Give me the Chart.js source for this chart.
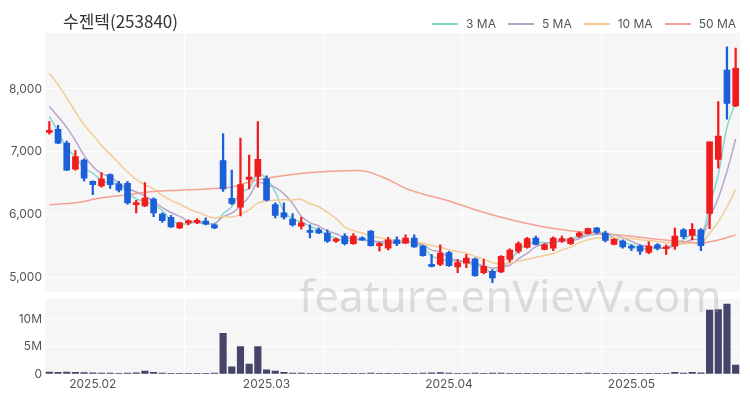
<!DOCTYPE html>
<html>
<head>
<meta charset="utf-8">
<script src="https://cdn.jsdelivr.net/npm/chart.js@4.4.1/dist/chart.umd.min.js"></script>
<style>
    body { margin: 0; background: #fff; }
    #wrap { position: relative; width: 750px; height: 400px; overflow: hidden; font-family: Inter, "Noto Sans CJK KR", sans-serif; }
    #title { position: absolute; left: 63px; top: 8px; font-size: 17px; color: #333; font-family: "Noto Sans CJK KR", sans-serif; }
    #legend { position: absolute; left: 420px; top: 16px; display: flex; font-size: 12px; color: #555; }
    .item { display: flex; align-items: center; margin-left: 12px; }
    .swatch { width: 26px; height: 2px; margin-right: 8px; }
    #priceBox { position: absolute; left: 0; top: 0; width: 750px; height: 302px; }
    #volBox { position: absolute; left: 0; top: 289px; width: 750px; height: 111px; }
    #mark { position: absolute; left: 299px; top: 273px; font-size: 44px; line-height: 44px; color: rgba(160, 160, 160, 0.33); font-family: "Noto Sans", sans-serif; pointer-events: none; white-space: nowrap; }
</style>
</head>
<body>
<div id="wrap">
    <div id="priceBox"><canvas id="priceChart"></canvas></div>
    <div id="volBox"><canvas id="volumeChart"></canvas></div>
    <div id="title">수젠텍(253840)</div>
    <div id="legend"></div>
    <div id="mark">feature.enVievV.com</div>
</div>
<script>
// Trading days shown on the chart
const dates = [
    '2025-01-21', '2025-01-22', '2025-01-23', '2025-01-24', '2025-01-31',
    '2025-02-03', '2025-02-04', '2025-02-05', '2025-02-06', '2025-02-07', '2025-02-10', '2025-02-11', '2025-02-12', '2025-02-13', '2025-02-14',
    '2025-02-17', '2025-02-18', '2025-02-19', '2025-02-20', '2025-02-21', '2025-02-24', '2025-02-25', '2025-02-26', '2025-02-27', '2025-02-28',
    '2025-03-03', '2025-03-04', '2025-03-05', '2025-03-06', '2025-03-07', '2025-03-10', '2025-03-11', '2025-03-12', '2025-03-13', '2025-03-14',
    '2025-03-17', '2025-03-18', '2025-03-19', '2025-03-20', '2025-03-21', '2025-03-24', '2025-03-25', '2025-03-26', '2025-03-27', '2025-03-28', '2025-03-31',
    '2025-04-01', '2025-04-02', '2025-04-03', '2025-04-04', '2025-04-07', '2025-04-08', '2025-04-09', '2025-04-10', '2025-04-11', '2025-04-14',
    '2025-04-15', '2025-04-16', '2025-04-17', '2025-04-18', '2025-04-21', '2025-04-22', '2025-04-23', '2025-04-24', '2025-04-25', '2025-04-28', '2025-04-29',
    '2025-05-02', '2025-05-07', '2025-05-08', '2025-05-09', '2025-05-12', '2025-05-13', '2025-05-14', '2025-05-15', '2025-05-16', '2025-05-19', '2025-05-20', '2025-05-21', '2025-05-22'
];

// OHLC
const opens = [
    7310, 7360, 7140, 6725, 6870, 6530, 6460, 6640, 6490, 6500,
    6160, 6140, 6250, 6010, 5960, 5790, 5870, 5880, 5900, 5840,
    6860, 6260, 6120, 6560, 6610, 6570, 6160, 6030, 5930, 5820,
    5750, 5760, 5710, 5580, 5660, 5540, 5630, 5740, 5510, 5470,
    5600, 5550, 5630, 5500, 5210, 5210, 5400, 5170, 5230, 5300,
    5080, 5100, 5090, 5290, 5420, 5480, 5630, 5450, 5470, 5580,
    5540, 5660, 5700, 5790, 5710, 5530, 5580, 5500, 5500, 5400,
    5520, 5460, 5500, 5760, 5670, 5760, 6020, 6880, 8300, 7730
];
const highs = [
    7480, 7420, 7170, 7020, 6890, 6540, 6670, 6650, 6530, 6530,
    6230, 6510, 6270, 6030, 5990, 5880, 5920, 5940, 5950, 5850,
    7290, 6710, 7220, 6950, 7480, 6620, 6190, 6190, 6020, 5960,
    5840, 5790, 5760, 5630, 5700, 5700, 5650, 5750, 5560, 5640,
    5650, 5680, 5680, 5510, 5370, 5520, 5420, 5290, 5370, 5310,
    5290, 5130, 5350, 5460, 5570, 5640, 5660, 5540, 5650, 5660,
    5640, 5730, 5790, 5800, 5740, 5620, 5600, 5520, 5520, 5570,
    5540, 5520, 5790, 5780, 5860, 5780, 7160, 7800, 8670, 8650
];
const lows = [
    7280, 7130, 6700, 6710, 6540, 6320, 6440, 6420, 6365, 6170,
    6030, 6130, 5970, 5880, 5800, 5780, 5840, 5860, 5840, 5780,
    6370, 6160, 5980, 6410, 6440, 6220, 5950, 5930, 5820, 5770,
    5630, 5700, 5560, 5560, 5520, 5530, 5590, 5500, 5420, 5440,
    5510, 5540, 5480, 5340, 5170, 5190, 5180, 5080, 5160, 5020,
    5060, 4920, 5080, 5250, 5390, 5470, 5520, 5440, 5430, 5560,
    5530, 5640, 5690, 5700, 5570, 5520, 5470, 5430, 5370, 5380,
    5440, 5370, 5450, 5620, 5600, 5430, 5780, 6740, 7520, 7720
];
const closes = [
    7340, 7140, 6710, 6925, 6580, 6480, 6570, 6480, 6390, 6190,
    6175, 6265, 6030, 5905, 5805, 5870, 5890, 5900, 5850, 5790,
    6410, 6180, 6480, 6600, 6880, 6230, 5990, 5960, 5840, 5870,
    5720, 5710, 5580, 5610, 5540, 5660, 5600, 5510, 5540, 5600,
    5540, 5630, 5490, 5350, 5180, 5390, 5190, 5240, 5310, 5030,
    5180, 4995, 5340, 5440, 5540, 5620, 5530, 5520, 5630, 5620,
    5620, 5710, 5780, 5720, 5590, 5610, 5490, 5470, 5420, 5500,
    5470, 5490, 5660, 5650, 5770, 5510, 7160, 7250, 7770, 8330
];

// Volume in millions of shares
const volumes = [
    0.35, 0.3, 0.35, 0.3, 0.25, 0.2, 0.15, 0.15, 0.12, 0.15,
    0.2, 0.55, 0.3, 0.15, 0.12, 0.1, 0.1, 0.1, 0.1, 0.15,
    7.4, 1.3, 5.0, 1.8, 5.0, 0.75, 0.55, 0.3, 0.15, 0.15,
    0.12, 0.1, 0.12, 0.1, 0.1, 0.12, 0.1, 0.15, 0.12, 0.1,
    0.1, 0.1, 0.12, 0.15, 0.2, 0.25, 0.15, 0.12, 0.1, 0.15,
    0.12, 0.15, 0.15, 0.12, 0.12, 0.1, 0.1, 0.1, 0.12, 0.1,
    0.1, 0.12, 0.15, 0.1, 0.12, 0.1, 0.1, 0.1, 0.1, 0.12,
    0.1, 0.1, 0.3, 0.15, 0.3, 0.2, 11.6, 11.7, 12.7, 1.6
];

// Moving averages
const ma3 = [
    7560, 7330, 7063, 6925, 6738, 6662, 6543, 6510, 6480, 6353,
    6252, 6210, 6157, 6067, 5913, 5860, 5855, 5887, 5880, 5847,
    6017, 6127, 6357, 6420, 6653, 6570, 6367, 6060, 5930, 5890,
    5810, 5767, 5670, 5633, 5577, 5603, 5600, 5590, 5550, 5550,
    5560, 5590, 5553, 5490, 5340, 5307, 5253, 5273, 5247, 5193,
    5173, 5068, 5172, 5258, 5440, 5533, 5563, 5557, 5560, 5590,
    5623, 5650, 5703, 5737, 5697, 5640, 5563, 5523, 5460, 5463,
    5463, 5487, 5540, 5600, 5693, 5643, 6147, 6640, 7390, 7783
];
const ma5 = [
    7720, 7560, 7390, 7180, 6939, 6767, 6653, 6607, 6500, 6422,
    6361, 6300, 6210, 6113, 6036, 5975, 5900, 5874, 5863, 5860,
    5968, 6026, 6142, 6292, 6510, 6474, 6436, 6332, 6180, 5978,
    5876, 5820, 5744, 5698, 5632, 5620, 5598, 5584, 5570, 5582,
    5558, 5564, 5560, 5522, 5438, 5408, 5320, 5270, 5262, 5232,
    5190, 5151, 5171, 5197, 5299, 5387, 5494, 5530, 5568, 5584,
    5584, 5620, 5672, 5690, 5684, 5682, 5638, 5576, 5516, 5498,
    5470, 5470, 5508, 5554, 5608, 5616, 5950, 6268, 6692, 7204
];
const ma10 = [
    8250, 8070, 7860, 7640, 7430, 7270, 7100, 6960, 6820, 6680,
    6564, 6477, 6409, 6307, 6229, 6168, 6100, 6042, 5988, 5948,
    5972, 5963, 6008, 6078, 6185, 6221, 6231, 6237, 6236, 6244,
    6175, 6128, 6038, 5939, 5805, 5748, 5709, 5664, 5634, 5607,
    5589, 5581, 5572, 5546, 5510, 5483, 5442, 5415, 5392, 5335,
    5299, 5236, 5221, 5230, 5266, 5289, 5323, 5351, 5383, 5442,
    5486, 5557, 5601, 5629, 5634, 5633, 5629, 5624, 5603, 5591,
    5576, 5554, 5542, 5535, 5553, 5543, 5710, 5888, 6123, 6406
];
const ma50 = [
    6160, null, null, 6190, null, null, 6270, null, null, 6320,
    null, null, 6370, null, null, 6390, null, null, 6410, null,
    null, 6440, null, 6520, null, 6580, null, null, 6640, null,
    null, 6680, null, null, 6700, null, 6700, 6670, null, 6560,
    null, 6420, null, 6330, null, null, 6220, null, null, 6080,
    null, null, 5960, null, null, 5860, null, null, 5780, null,
    null, 5730, null, null, 5700, null, null, 5660, null, null,
    5610, null, null, 5570, null, 5550, null, 5600, null, 5680
];

const priceTicks = [5000, 6000, 7000, 8000];
const volumeTicks = [0, 5, 10];

const UP = '#f21c1c';
const DOWN = '#1b5fd9';
const maColors = { '3 MA': '#86d6ca', '5 MA': '#b7a5cf', '10 MA': '#f2cc94', '50 MA': '#f5a092' };

// Grey plot background
const plotBg = {
    id: 'plotBg',
    beforeDraw(chart) {
        const { ctx, chartArea } = chart;
        ctx.save();
        ctx.fillStyle = '#f6f6f6';
        ctx.fillRect(chartArea.left, chartArea.top, chartArea.right - chartArea.left, chartArea.bottom - chartArea.top);
        ctx.restore();
    }
};

function candleColor(ctx) {
    const i = ctx.dataIndex;
    return closes[i] >= opens[i] ? UP : DOWN;
}

function xGridColor(ctx) {
    return ctx.index > 0 && ctx.index % 16 === 0 ? '#ffffff' : 'rgba(0,0,0,0)';
}

const tickFont = { family: 'Inter, sans-serif', size: 12 };

function maDataset(label, data) {
    return {
        type: 'line',
        label: label,
        data: data,
        borderColor: maColors[label],
        borderWidth: 1.5,
        pointRadius: 0,
        tension: 0.35,
        spanGaps: true,
        order: 2
    };
}

new Chart(document.getElementById('priceChart'), {
    type: 'bar',
    data: {
        labels: dates,
        datasets: [
            maDataset('50 MA', ma50),
            maDataset('10 MA', ma10),
            maDataset('5 MA', ma5),
            maDataset('3 MA', ma3),
            {
                label: 'wick',
                data: lows.map((l, i) => [l, highs[i]]),
                backgroundColor: candleColor,
                barThickness: 1.6,
                grouped: false,
                order: 1
            },
            {
                label: 'body',
                data: opens.map((o, i) => [o, closes[i]]),
                backgroundColor: candleColor,
                barThickness: 6,
                minBarLength: 2,
                grouped: false,
                order: 0
            }
        ]
    },
    options: {
        responsive: true,
        maintainAspectRatio: false,
        animation: false,
        layout: { padding: { top: 33, right: 10, bottom: 4, left: 0 } },
        plugins: { legend: { display: false }, tooltip: { enabled: false } },
        scales: {
            x: {
                ticks: { display: false, autoSkip: false },
                grid: { color: xGridColor, drawTicks: false },
                border: { display: false },
                afterFit: scale => { scale.height = 0; }
            },
            y: {
                min: 4775,
                max: 8890,
                afterBuildTicks: scale => { scale.ticks = priceTicks.map(v => ({ value: v })); },
                ticks: {
                    color: '#555',
                    font: tickFont,
                    padding: 3,
                    callback: v => v.toLocaleString('en-US')
                },
                grid: { color: '#ffffff', drawTicks: false },
                border: { display: false },
                afterFit: scale => { scale.width = 45; }
            }
        }
    },
    plugins: [plotBg]
});

new Chart(document.getElementById('volumeChart'), {
    type: 'bar',
    data: {
        labels: dates,
        datasets: [{
            label: 'volume',
            data: volumes,
            backgroundColor: '#45456a',
            barThickness: 6.5
        }]
    },
    options: {
        responsive: true,
        maintainAspectRatio: false,
        animation: false,
        layout: { padding: { top: 3, right: 10, bottom: 0, left: 0 } },
        plugins: { legend: { display: false }, tooltip: { enabled: false } },
        scales: {
            x: {
                ticks: {
                    autoSkip: false,
                    maxRotation: 0,
                    minRotation: 0,
                    padding: 3,
                    color: '#555',
                    font: tickFont,
                    callback: (v, i) => {
                        if (i === 0 || dates[i].slice(5, 7) === dates[i - 1].slice(5, 7)) return '';
                        return dates[i].slice(0, 7).replace('-', '.');
                    }
                },
                grid: { color: xGridColor, drawTicks: false },
                border: { display: false },
                afterFit: scale => { scale.height = 26; }
            },
            y: {
                min: 0,
                max: 13.6,
                afterBuildTicks: scale => { scale.ticks = volumeTicks.map(v => ({ value: v })); },
                ticks: {
                    color: '#555',
                    font: tickFont,
                    padding: 3,
                    callback: v => v === 0 ? '0' : v + 'M'
                },
                grid: { color: '#ffffff', drawTicks: false },
                border: { display: false },
                afterFit: scale => { scale.width = 45; }
            }
        }
    },
    plugins: [plotBg]
});

// Legend
const legendEl = document.getElementById('legend');
Object.keys(maColors).forEach(name => {
    const item = document.createElement('div');
    item.className = 'item';
    item.innerHTML = `<span class="swatch" style="background:${maColors[name]}"></span><span>${name}</span>`;
    legendEl.appendChild(item);
});
</script>
</body>
</html>
